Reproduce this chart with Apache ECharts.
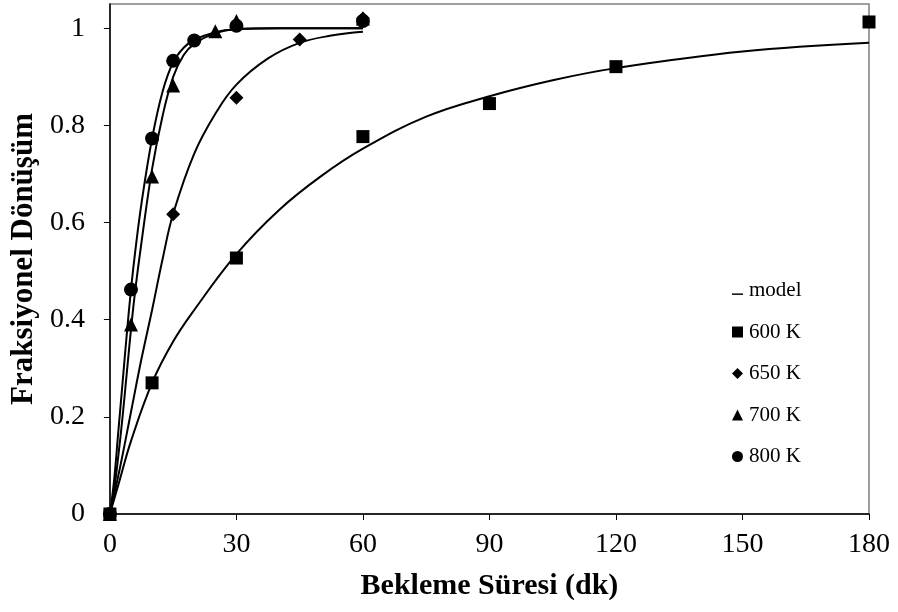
<!DOCTYPE html>
<html>
<head>
<meta charset="utf-8">
<script src="https://cdn.jsdelivr.net/npm/echarts@6/dist/echarts.min.js"></script>
<style>
html,body{margin:0;padding:0;background:#fff;}
#chart{width:898px;height:612px;}
</style>
</head>
<body>
<div id="chart"></div>
<script>
// Measured data points
var t600 = [0, 10, 30, 60, 90, 120, 180];
var v600 = [0, 0.27, 0.527, 0.777, 0.845, 0.921, 1.013];
var t650 = [0, 15, 30, 45, 60];
var v650 = [0, 0.617, 0.857, 0.977, 1.02];
var t700 = [0, 5, 10, 15, 25, 30, 60];
var v700 = [0, 0.39, 0.695, 0.882, 0.994, 1.015, 1.02];
var t800 = [0, 5, 10, 15, 20, 30, 60];
var v800 = [0, 0.462, 0.773, 0.933, 0.975, 1.005, 1.015];

// Model curves
var mt600 = [0, 2, 5, 10, 15, 20, 30, 40, 50, 60, 75, 90, 105, 120, 150, 180];
var mv600 = [0, 0.06, 0.15, 0.27, 0.355, 0.42, 0.535, 0.625, 0.695, 0.752, 0.818, 0.86, 0.893, 0.918, 0.952, 0.97];
var mt650 = [0, 2.5, 5, 7.5, 10, 12.5, 15, 20, 25, 30, 37.5, 45, 52.5, 60];
var mv650 = [0, 0.1, 0.21, 0.32, 0.42, 0.525, 0.618, 0.742, 0.824, 0.884, 0.938, 0.97, 0.985, 0.993];
var mt700 = [0, 1, 2, 3, 4, 5, 6, 7.5, 10, 12.5, 15, 17.5, 20, 25, 30, 40, 60];
var mv700 = [0, 0.05, 0.12, 0.2, 0.29, 0.38, 0.46, 0.56, 0.71, 0.82, 0.9, 0.945, 0.968, 0.99, 0.998, 1.0, 1.0];
var mt800 = [0, 1, 2, 3, 4, 5, 6, 7.5, 10, 12.5, 15, 17.5, 20, 25, 30, 40, 60];
var mv800 = [0, 0.07, 0.17, 0.27, 0.37, 0.462, 0.54, 0.64, 0.773, 0.87, 0.93, 0.96, 0.976, 0.992, 0.998, 1.0, 1.0];

var xTicks = [0, 30, 60, 90, 120, 150, 180];
var yTicks = [0, 0.2, 0.4, 0.6, 0.8, 1];

function pairs(xs, ys) { return xs.map(function (x, i) { return [x, ys[i]]; }); }

var FONT = '"Liberation Serif", "Times New Roman", serif';

function modelSeries(xs, ys) {
  return {
    name: 'model', type: 'line', data: pairs(xs, ys),
    smooth: 0.4, showSymbol: false, symbol: 'none',
    lineStyle: { color: '#000', width: 2 }, itemStyle: { color: '#000' },
    z: 3, silent: true
  };
}
function scatterSeries(name, xs, ys, symbol, size) {
  return {
    name: name, type: 'scatter', data: pairs(xs, ys), symbol: symbol, symbolSize: size,
    itemStyle: { color: '#000', opacity: 1 }, clip: false, z: 4
  };
}

var chart = echarts.init(document.getElementById('chart'), null, { renderer: 'canvas' });
chart.setOption({
  animation: false,
  backgroundColor: '#fff',
  textStyle: { fontFamily: FONT },
  grid: { left: 108, right: 29, top: 4, bottom: 98, show: true, borderColor: '#808080', borderWidth: 1.5, containLabel: false },
  legend: {
    orient: 'vertical', left: 727, top: 275, itemWidth: 11, itemHeight: 11, itemGap: 20.5,
    textStyle: { fontFamily: FONT, fontSize: 21, color: '#000', padding: [0, 0, 0, 1] },
    data: [
      { name: 'model', icon: 'path://M0,0 M0,10 L15,10 L15,12 L0,12 Z', itemStyle: { color: '#000' } },
      { name: '600 K', icon: 'rect', itemStyle: { color: '#000', opacity: 1 } },
      { name: '650 K', icon: 'diamond', itemStyle: { color: '#000', opacity: 1 } },
      { name: '700 K', icon: 'triangle', itemStyle: { color: '#000', opacity: 1 } },
      { name: '800 K', icon: 'circle', itemStyle: { color: '#000', opacity: 1 } }
    ]
  },
  xAxis: {
    type: 'value', min: 0, max: 180, interval: 30,
    axisLine: { show: true, lineStyle: { color: '#000', width: 1.5 } },
    axisTick: { show: true, length: 6, lineStyle: { color: '#000' }, customValues: xTicks },
    axisLabel: { fontFamily: FONT, fontSize: 28, color: '#000', margin: 17, customValues: xTicks },
    splitLine: { show: false },
    name: 'Bekleme Süresi (dk)', nameLocation: 'middle', nameGap: 57,
    nameTextStyle: { fontFamily: FONT, fontSize: 30, fontWeight: 'bold', color: '#000' }
  },
  yAxis: {
    type: 'value', min: 0, max: 1.05,
    axisLine: { show: true, lineStyle: { color: '#000', width: 1.5 } },
    axisTick: { show: true, length: 6, lineStyle: { color: '#000' }, customValues: yTicks },
    axisLabel: { fontFamily: FONT, fontSize: 28, color: '#000', margin: 25, customValues: yTicks,
      formatter: function (v) { return String(Math.round(v * 10) / 10); } },
    splitLine: { show: false },
    name: 'Fraksiyonel Dönüşüm', nameLocation: 'middle', nameGap: 68, nameRotate: 90,
    nameTextStyle: { fontFamily: FONT, fontSize: 31, fontWeight: 'bold', color: '#000' }
  },
  series: [
    modelSeries(mt600, mv600),
    modelSeries(mt650, mv650),
    modelSeries(mt700, mv700),
    modelSeries(mt800, mv800),
    scatterSeries('600 K', t600, v600, 'rect', 13),
    scatterSeries('650 K', t650, v650, 'diamond', 14),
    scatterSeries('700 K', t700, v700, 'triangle', 14),
    scatterSeries('800 K', t800, v800, 'circle', 14)
  ]
});
</script>
</body>
</html>
